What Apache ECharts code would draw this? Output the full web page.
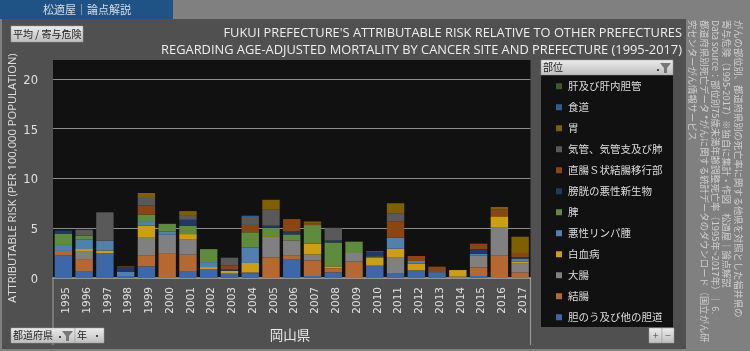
<!DOCTYPE html>
<html>
<head>
<meta charset="utf-8">
<script src="https://cdn.jsdelivr.net/npm/echarts@6/dist/echarts.min.js"></script>
<style>
html, body { margin: 0; padding: 0; background: #808080; }
#chart { width: 750px; height: 351px; }
</style>
</head>
<body>
<div id="chart"></div>
<script>
var years = ['1995','1996','1997','1998','1999','2000','2001','2002','2003','2004','2005','2006','2007','2008','2009','2010','2011','2012','2013','2014','2015','2016','2017'];

// bottom of the stack first
var tannou   = [2.25,0.7,2.48,0.2,1.17,0,0.7,0.9,0.44,0.47,0,1.84,0.2,0.57,0,1.24,0.44,0.77,0.57,0,0.2,0,0];
var ketchou  = [0.47,1.2,0,0,1.07,2.5,1.64,0,0,0,2.04,0.4,1.57,0.4,1.64,0,0,0,0,0,0.87,2.24,0.57];
var daichou  = [0,0.74,0,0,1.88,1.84,1.57,0,0,0.1,2.08,1.54,0.6,0,0.87,0,1.6,0,0.1,0.13,1.17,2.88,0.87];
var hakketsu = [0,0.27,0.27,0,1.14,0,0.5,0.2,0.27,0.94,0.07,0,1.07,0.2,0,0.8,0.9,0.67,0,0.67,0,1.07,0.2];
var lymph    = [0.6,0.94,1,0.4,0.37,0.33,0,0.5,0,1.54,0,0,0,0,0,0,1.1,0.27,0,0,0.2,0,0.27];
var hizou    = [1.14,0.4,0,0,0.74,0.77,0.84,1.3,0,1.54,0.84,0.6,1.88,2.4,1.14,0.13,0,0,0,0,0,0,0];
var boukou   = [0.33,0,0,0.47,0,0,0.6,0,0.13,0,0.23,0.3,0,0.2,0,0.47,0,0,0,0,0.47,0,0.2];
var chokuchou= [0,0,0,0.1,0.9,0,0,0,0.4,0.74,0,1.24,0.13,0,0,0,1.67,0.5,0.47,0,0.54,0.67,0.4];
var kikan    = [0,0.6,2.85,0,0.87,0,0.4,0,0.8,0.8,1.6,0,0,1.27,0,0,0.8,0,0,0,0,0,0];
var stomach  = [0,0,0,0,0.4,0,0.47,0,0,0,1,0,0.23,0,0,0.07,1,0,0,0,0,0.27,1.64];
var shokudou = [0,0,0,0,0,0,0,0,0,0.13,0,0,0,0,0,0,0,0,0,0,0,0,0];
var kanzou   = [0,0,0,0,0,0,0,0,0,0,0,0,0,0,0,0,0,0,0,0,0,0,0];

var siteNames = ['胆のう及び他の胆道','結腸','大腸','白血病','悪性リンパ腫','脾','膀胱の悪性新生物','直腸Ｓ状結腸移行部','気管、気管支及び肺','胃','食道','肝及び肝内胆管'];
var siteValues = [tannou,ketchou,daichou,hakketsu,lymph,hizou,boukou,chokuchou,kikan,stomach,shokudou,kanzou];
var siteColors = ['#3d68a8','#b5682f','#808080','#cc9e10','#4f80ae','#5f8b3e','#1f3864','#8b4513','#595959','#7f6000','#2a5f8f','#3a5a28'];

var titleLines = ["FUKUI PREFECTURE'S ATTRIBUTABLE RISK RELATIVE TO OTHER PREFECTURES","REGARDING AGE-ADJUSTED MORTALITY BY CANCER SITE AND PREFECTURE (1995-2017)"];
var sideLines = [
    'がんの部位別、都道府県別の死亡率に関する他県を対照とした福井県の',
    '寄与危険（1995-2017）※独自に集計・作図　松適屋｜論点解説',
    'Data source：部位別75歳未満年齢調整死亡率（1995年~2017年）｜ 6.',
    '都道府県別死亡データ *がんに関する統計データのダウンロード（国立がん研',
    '究センターがん情報サービス'
];
var sideX = [739, 727, 716, 705, 693];

var JP = '"Noto Sans CJK JP", sans-serif';

function button(x, y, w, h, label, centered) {
    return [{
        type: 'rect', z: 20,
        shape: { x: x, y: y, width: w, height: h },
        style: {
            fill: new echarts.graphic.LinearGradient(0, 0, 0, 1, [{ offset: 0, color: '#ececec' }, { offset: 1, color: '#bdbdbd' }]),
            stroke: '#9a9a9a', lineWidth: 0.5
        }
    }, {
        type: 'text', z: 21, x: centered ? x + w / 2 : x + 2, y: y + h / 2,
        style: { text: label, fill: centered ? '#666' : '#222', font: '10px ' + JP, align: centered ? 'center' : 'left', verticalAlign: 'middle' }
    }];
}

function funnel(x, y) {
    return {
        type: 'polygon', z: 21,
        shape: { points: [[x, y], [x + 11, y], [x + 7, y + 5], [x + 7, y + 10], [x + 4, y + 10], [x + 4, y + 5]] },
        style: { fill: '#777' }
    };
}

function dot(x, y) {
    return { type: 'rect', z: 21, shape: { x: x, y: y, width: 2, height: 2 }, style: { fill: '#444' } };
}

var graphics = [
    { type: 'rect', z: -5, shape: { x: 0, y: 0, width: 750, height: 351 }, style: { fill: '#808080' } },
    { type: 'rect', z: -4, shape: { x: 2, y: 19, width: 684, height: 330 }, style: { fill: '#505050' } },
    { type: 'rect', z: -3, shape: { x: 0, y: 0, width: 173, height: 19 }, style: { fill: '#1f5285' } },
    { type: 'text', z: 1, x: 87, y: 10, style: { text: '松適屋｜論点解説', fill: '#d5dce5', font: '11px ' + JP, align: 'center', verticalAlign: 'middle' } },
    { type: 'rect', z: -3, shape: { x: 541, y: 75, width: 132, height: 252 }, style: { fill: '#111' } },
    // y axis line runs below the plot, x axis line ends at the right edge
    { type: 'line', z: 3, shape: { x1: 53, y1: 278, x2: 53, y2: 345 }, style: { stroke: '#a0a0a0', lineWidth: 1 } },
    { type: 'line', z: 3, shape: { x1: 530.5, y1: 278, x2: 530.5, y2: 345 }, style: { stroke: '#a0a0a0', lineWidth: 1 } },
    { type: 'text', z: 1, x: 290, y: 335, style: { text: '岡山県', fill: '#e8e8e8', font: '13.5px ' + JP, align: 'center', verticalAlign: 'middle' } },
    { type: 'text', z: 1, x: 13, y: 178, rotation: Math.PI / 2, style: { text: 'ATTRIBUTABLE RISK (PER 100,000 POPULATION)', fill: '#e0e0e0', font: '11.2px "Open Sans", sans-serif', align: 'center', verticalAlign: 'middle' } }
];
graphics.push(
    ...button(11, 26, 72, 16, '平均 / 寄与危険'),
    ...button(541, 60, 132, 15, '部位'),
    ...button(11, 328, 64, 15, '都道府県'),
    ...button(75, 328, 29, 15, '年'),
    ...button(649, 328, 13, 15, '+', true),
    ...button(662, 328, 12, 15, '−', true),
    funnel(660, 63), funnel(62, 331),
    dot(657, 69), dot(59, 336), dot(96, 335)
);
titleLines.forEach(function (line, i) {
    graphics.push({ type: 'text', z: 1, x: 682, y: 33 + i * 17, style: { text: line, fill: '#eeeeee', font: '12.85px "Open Sans", sans-serif', align: 'right', verticalAlign: 'middle' } });
});
sideLines.forEach(function (line, i) {
    graphics.push({ type: 'text', z: 1, x: sideX[i], y: 20, rotation: -Math.PI / 2, style: { text: line, fill: '#cfcfcf', font: '9.3px ' + JP, align: 'left', verticalAlign: 'middle' } });
});

var chart = echarts.init(document.getElementById('chart'), null, { renderer: 'canvas' });
chart.setOption({
    animation: false,
    backgroundColor: '#808080',
    grid: { left: 53, right: 219.5, top: 60, bottom: 73, show: true, backgroundColor: '#111', borderWidth: 0 },
    legend: {
        orient: 'vertical', left: 556, top: 81,
        icon: 'rect', itemWidth: 6, itemHeight: 6, itemGap: 10.5, padding: 0,
        selectedMode: false,
        textStyle: { color: '#dddddd', fontSize: 10.5, fontFamily: JP, padding: [0, 0, 0, 1] },
        data: siteNames.slice().reverse()
    },
    xAxis: {
        type: 'category', data: years,
        axisLine: { lineStyle: { color: '#a8a8a8', width: 1.5 } },
        axisTick: { show: false },
        // top + small lineHeight nudges the rotated labels a little right of the bar centre
        axisLabel: { rotate: 90, color: '#e0e0e0', fontSize: 10.5, fontFamily: 'DejaVu Sans', margin: 9, interval: 0, verticalAlign: 'top', lineHeight: 6 }
    },
    yAxis: {
        type: 'value', min: 0, max: 21.9, interval: 5,
        axisLine: { show: false }, axisTick: { show: false },
        axisLabel: { color: '#e0e0e0', fontSize: 11.5, fontFamily: 'DejaVu Sans', margin: 15, showMaxLabel: false, verticalAlign: 'top', lineHeight: 4 },
        splitLine: { lineStyle: { color: '#8c8c8c', width: 1 }, showMinLine: false, showMaxLine: false }
    },
    series: siteNames.map(function (name, i) {
        return { name: name, type: 'bar', stack: 'risk', data: siteValues[i], barWidth: 17.4, itemStyle: { color: siteColors[i] } };
    }),
    graphic: { elements: graphics }
});
</script>
</body>
</html>
